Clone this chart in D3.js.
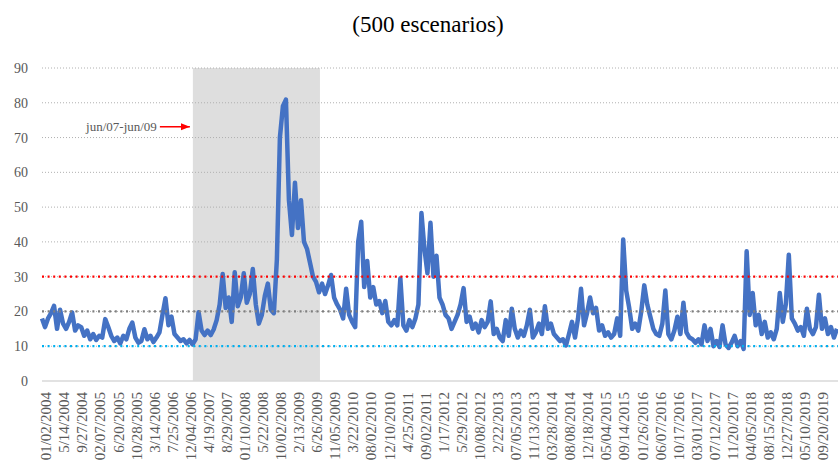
<!DOCTYPE html>
<html>
<head>
<meta charset="utf-8">
<script src="https://cdn.jsdelivr.net/npm/d3@7"></script>
<style>
  body { margin: 0; background: #fff; }
  text { font-family: "Liberation Serif", "Times New Roman", serif; }
</style>
</head>
<body>
<div id="chart"></div>
<script>
// tick labels, one every 6 samples
var dateLabels = [
  "01/02/2004", "5/14/2004", "9/27/2004", "02/07/2005", "6/20/2005", "10/28/2005",
  "3/14/2006", "7/25/2006", "12/04/2006", "4/19/2007", "8/29/2007", "01/10/2008",
  "5/22/2008", "10/02/2008", "2/13/2009", "6/26/2009", "11/05/2009", "3/22/2010",
  "08/02/2010", "12/10/2010", "4/25/2011", "09/02/2011", "1/17/2012", "5/29/2012",
  "10/08/2012", "2/22/2013", "07/05/2013", "11/13/2013", "03/28/2014", "08/08/2014",
  "12/18/2014", "05/04/2015", "09/14/2015", "01/26/2016", "06/07/2016", "10/17/2016",
  "03/01/2017", "07/12/2017", "11/20/2017", "04/05/2018", "08/15/2018", "12/27/2018",
  "05/10/2019", "09/20/2019"
];
var samplesPerLabel = 6;

// series, roughly every 15 trading days
var vix = [
  18, 15.5, 18, 19.5, 21.6, 15, 20.5, 16.5, 15, 17, 19.7, 14.5, 16, 15.5, 13, 14.5, 12, 13.5, 11.8, 13,
  12.5, 17.8, 15.5, 13, 11.5, 12.5, 10.8, 13, 12, 15, 16.8, 12.5, 11, 11.5, 14.9, 12, 13, 11.2, 12.5, 14,
  19, 23.8, 16, 18.5, 13.5, 12.5, 11.5, 12, 10.8, 11.8, 10.5, 12, 19.8, 14.5, 13.2, 14.5, 13.2, 14.8, 17.5, 22,
  30.8, 21, 24, 17, 31.3, 21.5, 24, 31, 22.5, 25, 32.2, 22, 16.5, 19, 24.5, 28, 20.5, 19.5, 35, 70,
  79, 80.9, 52, 42, 57, 44, 52, 40, 38, 34, 30, 28.5, 25.5, 28, 25, 27.5, 30.5, 24, 22, 20.5,
  18, 26.5, 19, 17, 15.5, 40, 45.8, 27, 34.5, 24, 27, 22, 23, 19.5, 23, 17, 16, 17.5, 16, 29.5,
  16, 14.5, 17.5, 15.5, 18, 22, 48.3, 38, 31, 45.5, 30, 36, 24, 22, 19, 18, 15, 17, 19, 22,
  26.7, 17, 18.5, 15, 16.5, 14, 17.5, 15.5, 17, 22.9, 13.5, 15, 12.5, 11.5, 17.5, 13, 20.8, 15, 12.5, 14.5,
  13, 16, 20.5, 12.5, 14, 16.5, 13.5, 21.5, 15, 16.5, 13.5, 12.5, 11.5, 12, 10.2, 13.5, 17, 12.5, 18, 26.5,
  16, 19.5, 24, 19.5, 21, 14.5, 16, 13, 14, 12.5, 13.5, 18, 13, 40.7, 26, 21, 15, 16.5, 14.5, 20,
  27.5, 22, 18.5, 15, 13.5, 13, 16.5, 26, 13.5, 12, 14.5, 18.5, 13.5, 22.5, 14, 12.5, 12, 11, 12, 10.5,
  16, 11.5, 15, 10, 11.5, 9.8, 16, 10.5, 9.5, 11, 13, 10, 11.5, 9.2, 37.3, 19, 25.3, 16, 19, 13.5,
  17, 12.5, 14, 12, 15, 25.3, 17, 22, 36.3, 18, 16.5, 14.5, 15.5, 13, 20.8, 15, 13.5, 15.5, 24.8, 15,
  18, 13.5, 15.5, 12.5, 15
];

var yTicks = [0, 10, 20, 30, 40, 50, 60, 70, 80, 90];
var thresholds = [30, 20, 10];
var crisis = [50.1, 92.3];       // shaded period, in sample units
var crisisLabel = "jun/07-jun/09";
var title = "(500 escenarios)";

var width = 838, height = 466;
var margin = {top: 68, right: 1, bottom: 85, left: 42};

var svg = d3.select("#chart").append("svg")
    .attr("width", width)
    .attr("height", height);

var x = d3.scaleLinear()
    .domain([0, vix.length - 1])
    .range([margin.left, width - margin.right]);

var y = d3.scaleLinear()
    .domain([0, 90])
    .range([height - margin.bottom, margin.top]);

// title
svg.append("text")
    .attr("x", 428)
    .attr("y", 32)
    .attr("text-anchor", "middle")
    .attr("font-size", "23px")
    .attr("fill", "#000")
    .text(title);

// shaded crisis period
svg.append("rect")
    .attr("x", x(crisis[0]))
    .attr("y", y(90))
    .attr("width", x(crisis[1]) - x(crisis[0]))
    .attr("height", y(0) - y(90))
    .attr("fill", "#dedede");

// gridlines
svg.selectAll(".grid")
    .data(yTicks.filter(function(d) { return d > 0; }))
    .enter().append("line")
    .attr("class", "grid")
    .attr("x1", margin.left)
    .attr("x2", width)
    .attr("y1", function(d) { return y(d); })
    .attr("y2", function(d) { return y(d); })
    .attr("stroke", "#b0b0b0")
    .attr("stroke-width", 1)
    .attr("stroke-dasharray", "1,2");

// zero line
svg.append("line")
    .attr("x1", margin.left)
    .attr("x2", width)
    .attr("y1", y(0))
    .attr("y2", y(0))
    .attr("stroke", "#d9d9d9")
    .attr("stroke-width", 1.5);

// y axis labels
svg.append("g")
    .attr("transform", "translate(" + (margin.left - 14) + ",0)")
    .call(d3.axisLeft(y).tickValues(yTicks).tickSize(0).tickPadding(0))
    .call(function(g) { g.select(".domain").remove(); })
    .selectAll("text")
    .attr("font-family", "Liberation Serif, Times New Roman, serif")
    .attr("font-size", "14px")
    .attr("fill", "#595959");

// x axis labels, rotated
var tickIdx = dateLabels.map(function(d, i) { return i * samplesPerLabel; });
svg.selectAll(".xlab")
    .data(dateLabels)
    .enter().append("text")
    .attr("class", "xlab")
    .attr("transform", function(d, i) {
        return "translate(" + (x(tickIdx[i]) + 4) + "," + (y(0) + 11) + ") rotate(-90)";
    })
    .attr("dy", "0.35em")
    .attr("text-anchor", "end")
    .attr("font-size", "15px")
    .attr("fill", "#595959")
    .text(function(d) { return d; });

// series line
var line = d3.line()
    .x(function(d, i) { return x(i); })
    .y(function(d) { return y(d); });

svg.append("path")
    .datum(vix)
    .attr("d", line)
    .attr("fill", "none")
    .attr("stroke", "#4472c4")
    .attr("stroke-width", 4.5)
    .attr("stroke-linejoin", "round");

// threshold lines
var thresholdColor = {30: "#ff0000", 20: "#7f7f7f", 10: "#00b0f0"};
svg.selectAll(".thr")
    .data(thresholds)
    .enter().append("line")
    .attr("class", "thr")
    .attr("x1", margin.left)
    .attr("x2", width)
    .attr("y1", function(d) { return y(d); })
    .attr("y2", function(d) { return y(d); })
    .attr("stroke", function(d) { return thresholdColor[d]; })
    .attr("stroke-width", 2.2)
    .attr("stroke-dasharray", "2,3.6");

// annotation with arrow
svg.append("defs").append("marker")
    .attr("id", "arrow")
    .attr("viewBox", "0 0 10 10")
    .attr("refX", 10).attr("refY", 5)
    .attr("markerWidth", 6).attr("markerHeight", 6)
    .attr("orient", "auto")
    .append("path")
    .attr("d", "M0,1 L10,5 L0,9 z")
    .attr("fill", "#ff0000");

var arrowEnd = x(crisis[0]) - 3;
svg.append("line")
    .attr("x1", arrowEnd - 30)
    .attr("x2", arrowEnd)
    .attr("y1", y(73.1))
    .attr("y2", y(73.1))
    .attr("stroke", "#ff0000")
    .attr("stroke-width", 1.5)
    .attr("marker-end", "url(#arrow)");

svg.append("text")
    .attr("x", arrowEnd - 33)
    .attr("y", y(73.1))
    .attr("dy", "0.32em")
    .attr("text-anchor", "end")
    .attr("font-size", "13px")
    .attr("fill", "#595959")
    .text(crisisLabel);
</script>
</body>
</html>
